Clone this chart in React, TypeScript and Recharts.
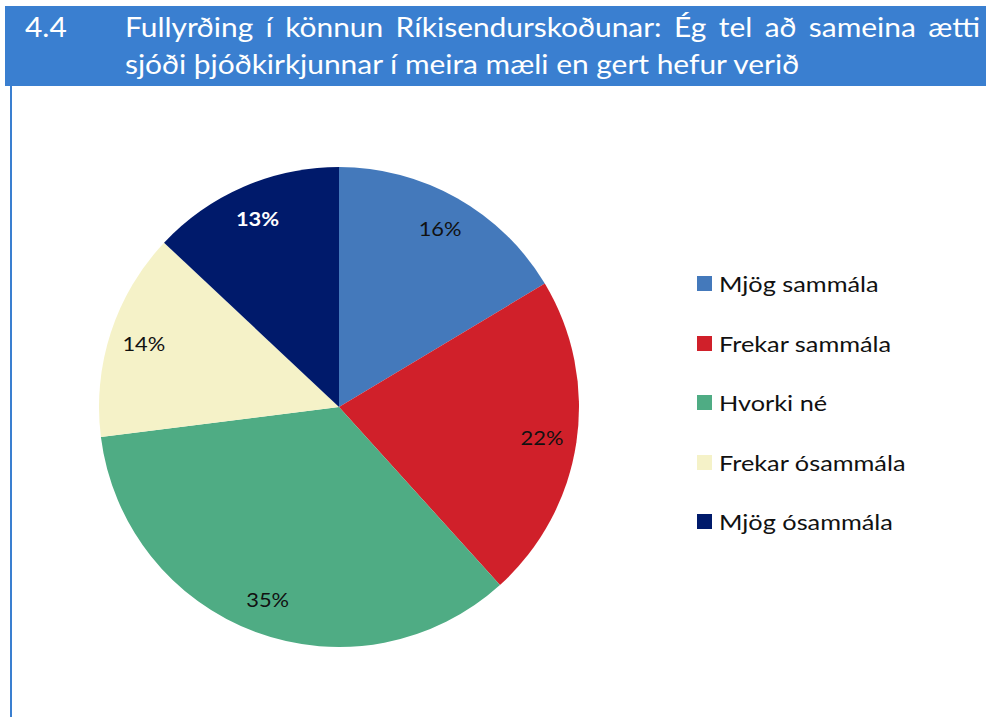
import React from 'react';
import { PieChart, Pie, Cell, Legend } from 'recharts';

const categories = ['Mjög sammála', 'Frekar sammála', 'Hvorki né', 'Frekar ósammála', 'Mjög ósammála'];
const shares = [16.4, 21.9, 34.7, 14.0, 13.0];
const colors = ['#4479BB', '#D0202A', '#4FAC84', '#F5F2C8', '#001A6B'];
const titleNumber = '4.4';
const titleLines = [
  'Fullyrðing í könnun Ríkisendurskoðunar: Ég tel að sameina ætti',
  'sjóði þjóðkirkjunnar í meira mæli en gert hefur verið',
];

const data = categories.map((name, i) => ({ name, value: shares[i] }));

const FONT = 'Lato, "Open Sans", sans-serif';
const RAD = Math.PI / 180;
const STRETCH = 1.15;

const renderLabel = (props: any) => {
  const { cx, cy, midAngle, outerRadius, value, index } = props;
  const r = outerRadius * 0.855;
  const x = cx + r * Math.cos(-midAngle * RAD);
  const y = cy + r * Math.sin(-midAngle * RAD);
  const dark = index === 4;
  return (
    <text
      transform={`translate(${x},${y}) scale(${STRETCH},1)`}
      textAnchor="middle"
      dominantBaseline="central"
      fontFamily={FONT}
      fontSize={19}
      fontWeight={dark ? 700 : 400}
      fill={dark ? '#FFFFFF' : '#111111'}
    >
      {`${Math.round(value)}%`}
    </text>
  );
};

const LegendList = (props: any) => {
  const items = [...(props.payload || [])].sort(
    (a: any, b: any) => categories.indexOf(a.value) - categories.indexOf(b.value)
  );
  return (
    <div style={{ fontFamily: FONT }}>
      {items.map((entry: any) => (
        <div key={entry.value} style={{ display: 'flex', alignItems: 'center', height: 59.5 }}>
          <span style={{ width: 15, height: 15, background: entry.color, marginRight: 7, flexShrink: 0 }} />
          <span
            style={{
              fontSize: 22,
              color: '#111',
              display: 'inline-block',
              transform: `scaleX(${STRETCH})`,
              transformOrigin: 'left center',
              whiteSpace: 'nowrap',
            }}
          >
            {entry.value}
          </span>
        </div>
      ))}
    </div>
  );
};

export default function App() {
  return (
    <div style={{ position: 'absolute', left: 0, top: 0, width: 986, height: 717, background: '#fff', overflow: 'hidden' }}>
      <div style={{ position: 'absolute', left: 10, top: 80, width: 2, height: 640, background: '#3A7FD0' }} />
      <div
        style={{
          position: 'absolute',
          left: 5,
          top: 6,
          width: 981,
          height: 80,
          background: '#3A7FD0',
          color: '#fff',
          fontFamily: FONT,
          fontSize: 26,
          lineHeight: '37px',
        }}
      >
        <div style={{ position: 'absolute', left: 20, top: 3, transform: `scaleX(${STRETCH})`, transformOrigin: 'left top' }}>
          {titleNumber}
        </div>
        <div
          style={{
            position: 'absolute',
            left: 120,
            top: 3,
            width: 855 / STRETCH,
            transform: `scaleX(${STRETCH})`,
            transformOrigin: 'left top',
            whiteSpace: 'nowrap',
          }}
        >
          <div style={{ textAlign: 'justify', textAlignLast: 'justify' }}>{titleLines[0]}</div>
          <div>{titleLines[1]}</div>
        </div>
      </div>
      <div style={{ position: 'absolute', left: 0, top: 0 }}>
        <PieChart width={986} height={717} margin={{ top: 0, right: 0, bottom: 0, left: 0 }}>
          <Pie
            data={data}
            dataKey="value"
            nameKey="name"
            cx={339}
            cy={407}
            outerRadius={240}
            startAngle={90}
            endAngle={-270}
            stroke="none"
            label={renderLabel}
            labelLine={false}
            isAnimationActive={false}
          >
            {data.map((d, i) => (
              <Cell key={d.name} fill={colors[i]} />
            ))}
          </Pie>
          <Legend
            layout="vertical"
            content={<LegendList />}
            wrapperStyle={{ left: 697, top: 254, width: 260 }}
          />
        </PieChart>
      </div>
    </div>
  );
}
